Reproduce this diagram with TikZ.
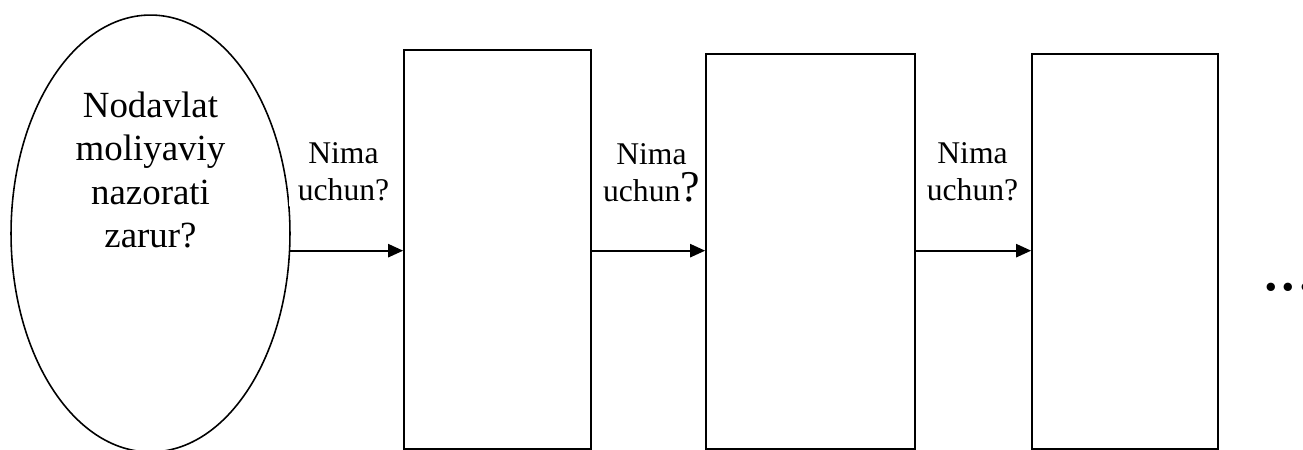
\documentclass[tikz,border=0pt]{standalone}
\usepackage{fontspec}
\setmainfont{Liberation Serif}
\usetikzlibrary{shapes.geometric,arrows.meta}

\begin{document}
\begin{tikzpicture}[x=0.02cm, y=-0.02cm,
    blank/.style={rectangle, draw, line width=1pt, minimum width=3.74cm, minimum height=7.9cm},
    why/.style={align=center, inner xsep=5pt, inner ysep=3pt, font=\fontsize{18}{21}\selectfont},
    arr/.style={-{Triangle[length=8.5pt,width=7.5pt]}, line width=1pt}]
    \useasboundingbox (0,0) rectangle (1303,450);

    % Question
    \node[ellipse, draw, line width=0.9pt, inner sep=0pt, minimum width=5.58cm, minimum height=8.74cm] (q) at (150.5,233.5) {};
    \node[align=center, font=\fontsize{21}{24.6}\selectfont] (qtext) at (150.5,170) {Nodavlat\\moliyaviy\\nazorati\\zarur?};

    % Answers
    \node[blank, minimum height=7.98cm] (b1) at (497.5,249.5) {};
    \node[blank, minimum width=4.18cm] (b2) at (810.5,251.5) {};
    \node[blank, minimum width=3.72cm] (b3) at (1125,251.5) {};

    % Labels
    \node[why, fill=white] (w1) at (343.5,172) {Nima\\uchun?};
    \node[why] (w2) at (651.5,173) {Nima\\uchun{\fontsize{25}{25}\selectfont ?}};
    \node[why] (w3) at (972.5,172) {Nima\\uchun?};

    \node[anchor=base west, inner sep=0pt, font=\fontsize{40}{40}\selectfont] (dots) at (1262,290) {...};

    \draw[arr] (q.-7) -- (q.-7 -| b1.west);
    \draw[arr] (b1.east |- q.-7) -- (b2.west |- q.-7);
    \draw[arr] (b2.east |- q.-7) -- (b3.west |- q.-7);
\end{tikzpicture}
\end{document}
